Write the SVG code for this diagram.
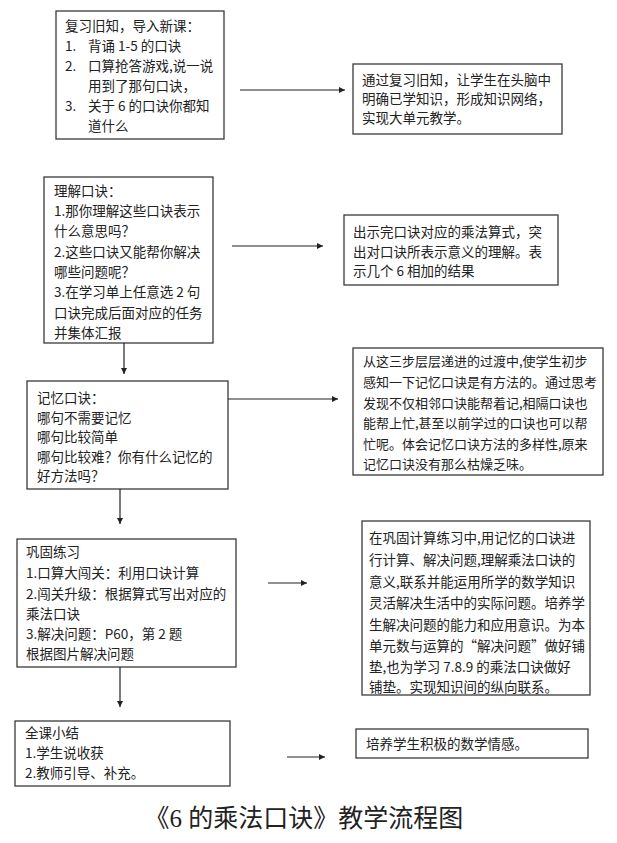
<svg xmlns="http://www.w3.org/2000/svg" width="617" height="843" viewBox="0 0 617 843">
<defs>
<style>
.box{fill:#fff;stroke:#3a3a3a;stroke-width:1.3}
.t{font-family:"Noto Sans CJK SC","Liberation Sans",sans-serif;font-size:13.5px;fill:#222}
.s{font-size:13px}
.ln{stroke:#222;stroke-width:1.2;fill:none}
.title{font-family:"Liberation Serif","Noto Sans CJK SC",serif;font-size:25px;fill:#222}
</style>
<marker id="ah" viewBox="0 0 10 10" refX="10" refY="5" markerWidth="8" markerHeight="6" markerUnits="userSpaceOnUse" orient="auto">
<path d="M0,0 L10,5 L0,10 z" fill="#222"/>
</marker>
</defs>
<rect width="617" height="843" fill="#fff"/>

<g id="n1">
<rect class="box" x="56" y="11" width="168" height="128"/>
<text class="t"><tspan x="65" y="31">复习旧知，导入新课：</tspan><tspan x="65" y="51">1.</tspan><tspan x="88" y="51">背诵 1-5 的口诀</tspan><tspan x="65" y="71">2.</tspan><tspan x="88" y="71">口算抢答游戏,说一说</tspan><tspan x="88" y="91">用到了那句口诀，</tspan><tspan x="65" y="111">3.</tspan><tspan x="88" y="111">关于 6 的口诀你都知</tspan><tspan x="88" y="131">道什么</tspan></text>
</g>

<g id="n2">
<rect class="box" x="353" y="64" width="209" height="70"/>
<text class="t"><tspan x="362" y="85">通过复习旧知，让学生在头脑中</tspan><tspan x="362" y="104">明确已学知识，形成知识网络，</tspan><tspan x="362" y="123">实现大单元教学。</tspan></text>
</g>

<g id="n3">
<rect class="box" x="44" y="177" width="169" height="166"/>
<text class="t"><tspan x="54" y="196">理解口诀：</tspan><tspan x="54" y="216">1.那你理解这些口诀表示</tspan><tspan x="54" y="236">什么意思吗？</tspan><tspan x="54" y="257">2.这些口诀又能帮你解决</tspan><tspan x="54" y="277">哪些问题呢？</tspan><tspan x="54" y="297">3.在学习单上任意选 2 句</tspan><tspan x="54" y="318">口诀完成后面对应的任务</tspan><tspan x="54" y="338">并集体汇报</tspan></text>
</g>

<g id="n4">
<rect class="box" x="344" y="215" width="214" height="70"/>
<text class="t"><tspan x="353" y="237">出示完口诀对应的乘法算式，突</tspan><tspan x="353" y="257">出对口诀所表示意义的理解。表</tspan><tspan x="353" y="276">示几个 6 相加的结果</tspan></text>
</g>

<g id="n5">
<rect class="box" x="27" y="381" width="201" height="108"/>
<text class="t"><tspan x="37" y="403">记忆口诀：</tspan><tspan x="37" y="423">哪句不需要记忆</tspan><tspan x="37" y="442">哪句比较简单</tspan><tspan x="37" y="462">哪句比较难？你有什么记忆的</tspan><tspan x="37" y="481">好方法吗？</tspan></text>
</g>

<g id="n6">
<rect class="box" x="353" y="348" width="250" height="127"/>
<text class="t s"><tspan x="363" y="366">从这三步层层递进的过渡中,使学生初步</tspan><tspan x="363" y="387">感知一下记忆口诀是有方法的。通过思考</tspan><tspan x="363" y="408">发现不仅相邻口诀能帮着记,相隔口诀也</tspan><tspan x="363" y="428">能帮上忙,甚至以前学过的口诀也可以帮</tspan><tspan x="363" y="449">忙呢。体会记忆口诀方法的多样性,原来</tspan><tspan x="363" y="469">记忆口诀没有那么枯燥乏味。</tspan></text>
</g>

<g id="n7">
<rect class="box" x="17" y="539" width="219" height="128"/>
<text class="t"><tspan x="26" y="557">巩固练习</tspan><tspan x="26" y="578">1.口算大闯关：利用口诀计算</tspan><tspan x="26" y="599">2.闯关升级：根据算式写出对应的</tspan><tspan x="26" y="619">乘法口诀</tspan><tspan x="26" y="639">3.解决问题：P60，第 2 题</tspan><tspan x="26" y="659">根据图片解决问题</tspan></text>
</g>

<g id="n8">
<rect class="box" x="362" y="521" width="228" height="174"/>
<text class="t"><tspan x="369" y="543">在巩固计算练习中,用记忆的口诀进</tspan><tspan x="369" y="565">行计算、解决问题,理解乘法口诀的</tspan><tspan x="369" y="587">意义,联系并能运用所学的数学知识</tspan><tspan x="369" y="608">灵活解决生活中的实际问题。培养学</tspan><tspan x="369" y="630">生解决问题的能力和应用意识。为本</tspan><tspan x="369" y="651">单元数与运算的“解决问题”做好铺</tspan><tspan x="369" y="672">垫,也为学习 7.8.9 的乘法口诀做好</tspan><tspan x="369" y="692">铺垫。实现知识间的纵向联系。</tspan></text>
</g>

<g id="n9">
<rect class="box" x="15" y="721" width="215" height="65"/>
<text class="t"><tspan x="25" y="738">全课小结</tspan><tspan x="25" y="758">1.学生说收获</tspan><tspan x="25" y="778">2.教师引导、补充。</tspan></text>
</g>

<g id="n10">
<rect class="box" x="356" y="729" width="232" height="29"/>
<text class="t"><tspan x="366" y="749">培养学生积极的数学情感。</tspan></text>
</g>

<g id="connectors">
<line class="ln" x1="240" y1="90" x2="345" y2="90" marker-end="url(#ah)"/>
<line class="ln" x1="232" y1="246" x2="323" y2="246" marker-end="url(#ah)"/>
<line class="ln" x1="124" y1="343" x2="124" y2="374" marker-end="url(#ah)"/>
<line class="ln" x1="228" y1="399" x2="338" y2="399" marker-end="url(#ah)"/>
<line class="ln" x1="120" y1="489" x2="120" y2="524" marker-end="url(#ah)"/>
<line class="ln" x1="268" y1="583" x2="307" y2="583" marker-end="url(#ah)"/>
<line class="ln" x1="120" y1="667" x2="120" y2="707" marker-end="url(#ah)"/>
<line class="ln" x1="287" y1="757" x2="325" y2="757" marker-end="url(#ah)"/>
</g>

<text class="title" x="304" y="827" text-anchor="middle">《6 的乘法口诀》教学流程图</text>
</svg>
